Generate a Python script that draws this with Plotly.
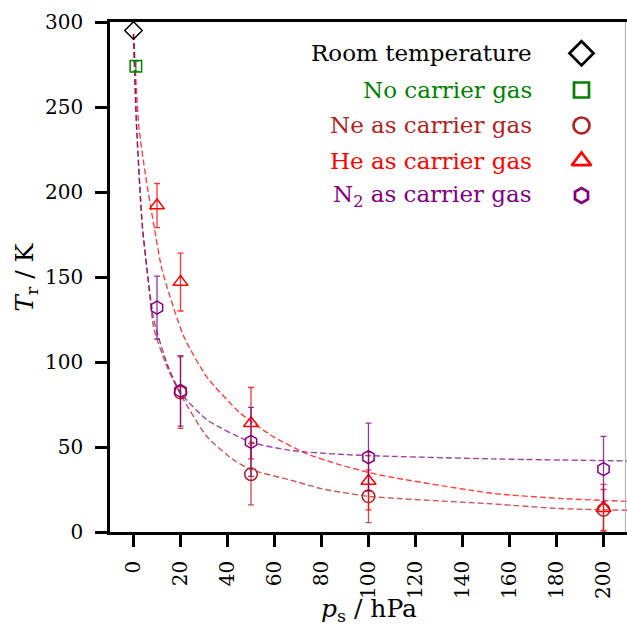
import plotly.graph_objects as go

# ---------------- data ----------------
room_p = [0]
room_T = [295]

none_p = [1]
none_T = [274]
none_err = [3]

ne_p = [20, 50, 100, 200]
ne_T = [82, 34, 21, 13]
ne_err = [21, 18, 15.5, 12]

he_p = [10, 20, 50, 100, 200]
he_T = [192, 147, 64, 30, 14]
he_err = [13, 17, 21, 17, 14]

n2_p = [10, 20, 50, 100, 200]
n2_T = [132, 83, 53, 44, 37]
n2_err = [18.5, 20.7, 20.3, 20, 19.3]

# fitted curves
ne_fit_p = [0, 1.3, 3.7, 6.5, 8.6, 14.3, 20, 31.3, 42.6, 50.4, 66.7, 80, 100, 153, 181, 210]
ne_fit_T = [293, 239, 181, 145, 120, 97, 81, 56, 42.4, 36.5, 30.6, 25.5, 21, 16.5, 13.8, 12.8]

he_fit_p = [0, 2.25, 5.1, 8.6, 12.2, 21.4, 31.3, 45.4, 59.6, 73.8, 87.9, 104.9, 153, 181, 210]
he_fit_T = [293, 239, 210, 181, 154, 115, 91, 70, 56, 46, 39.5, 33.5, 22.7, 19.8, 18]

n2_fit_p = [0, 1.3, 3.7, 5.8, 8.6, 14.3, 20, 31.3, 49.7, 66.7, 87.9, 104.9, 153, 210]
n2_fit_T = [293, 239, 181, 154, 125, 99, 82, 66, 53, 48, 45.7, 44.7, 43, 41.8]

x_ticks = [0, 20, 40, 60, 80, 100, 120, 140, 160, 180, 200]
y_ticks = [0, 50, 100, 150, 200, 250, 300]

legend_labels = ["Room temperature", "No carrier gas", "Ne as carrier gas",
                 "He as carrier gas", "N<sub>2</sub> as carrier gas"]

# ---------------- styles ----------------
FONT = "DejaVu Serif, serif"
C_ROOM = "black"
C_NONE = "#008000"
C_NE = "#b22222"
C_HE = "#ff0000"
C_N2 = "#800080"
FIT_A = {"ne": "rgba(178,34,34,0.75)", "he": "rgba(255,0,0,0.75)", "n2": "rgba(128,0,128,0.75)"}
ERR_A = {"ne": "rgba(178,34,34,0.8)", "he": "rgba(255,0,0,0.8)", "n2": "rgba(128,0,128,0.8)",
         "none": "rgba(0,128,0,0.9)"}
CLEAR = "rgba(0,0,0,0)"

fig = go.Figure()

def fit_trace(px, py, color):
    fig.add_trace(go.Scatter(x=px, y=py, mode="lines",
                             line=dict(color=color, width=1.4, dash="6px,3px", shape="spline", smoothing=0.6),
                             hoverinfo="skip", showlegend=False))

fit_trace(ne_fit_p, ne_fit_T, FIT_A["ne"])
fit_trace(he_fit_p, he_fit_T, FIT_A["he"])
fit_trace(n2_fit_p, n2_fit_T, FIT_A["n2"])

def data_trace(px, py, err, color, ecolor, symbol, size):
    kw = {}
    if err is not None:
        kw["error_y"] = dict(type="data", array=err, visible=True, color=ecolor,
                             thickness=1.3, width=3)
    fig.add_trace(go.Scatter(x=px, y=py, mode="markers",
                             marker=dict(symbol=symbol, size=size, color=CLEAR,
                                         line=dict(color=color, width=1.5)),
                             showlegend=False, **kw))

data_trace(room_p, room_T, None, C_ROOM, None, "diamond", 13.5)
data_trace(none_p, none_T, none_err, C_NONE, ERR_A["none"], "square", 11.5)
data_trace(ne_p, ne_T, ne_err, C_NE, ERR_A["ne"], "circle", 12.5)
data_trace(he_p, he_T, he_err, C_HE, ERR_A["he"], "triangle-up", 13)
data_trace(n2_p, n2_T, n2_err, C_N2, ERR_A["n2"], "hexagon", 13)

# ---------------- manual legend (text left of marker) ----------------
leg_colors = [C_ROOM, C_NONE, C_NE, C_HE, C_N2]
leg_symbols = ["diamond", "square", "circle", "triangle-up", "hexagon"]
leg_sizes = [18.5, 15, 16, 17, 15]
leg_y = [0.9386, 0.8667, 0.7971, 0.7275, 0.6598]
leg_mx = 0.912
leg_tx = 0.820

for col, sym, sz, yy in zip(leg_colors, leg_symbols, leg_sizes, leg_y):
    fig.add_trace(go.Scatter(x=[leg_mx], y=[yy], xaxis="x2", yaxis="y2", mode="markers",
                             marker=dict(symbol=sym, size=sz, color=CLEAR,
                                         line=dict(color=col, width=2.7)),
                             showlegend=False, hoverinfo="skip"))

annotations = []
for lab, col, yy in zip(legend_labels, leg_colors, leg_y):
    annotations.append(dict(x=leg_tx, y=yy, xref="paper", yref="paper", text=lab,
                            showarrow=False, xanchor="right", yanchor="middle",
                            font=dict(family=FONT, size=23, color=col)))

annotations.append(dict(x=-0.163, y=0.5, xref="paper", yref="paper",
                        text="<i>T</i><sub>r</sub> / K", textangle=-90, showarrow=False,
                        xanchor="center", yanchor="middle",
                        font=dict(family=FONT, size=25, color="black")))
annotations.append(dict(x=0.5, y=-0.153, xref="paper", yref="paper",
                        text="<i>p</i><sub>s</sub> / hPa", showarrow=False,
                        xanchor="center", yanchor="middle",
                        font=dict(family=FONT, size=25, color="black")))

axis_common = dict(showgrid=False, zeroline=False, ticks="outside", ticklen=12, tickwidth=2.5,
                   tickcolor="black", showline=True, linewidth=2.5, linecolor="black",
                   tickfont=dict(family=FONT, size=20, color="black"), automargin=False)

fig.update_layout(
    width=627, height=629,
    margin=dict(l=110, r=0, t=22, b=97),
    plot_bgcolor="white", paper_bgcolor="white",
    showlegend=False,
    xaxis=dict(range=[-10, 210], tickvals=x_ticks, tickangle=-90, mirror=True,
               ticklabelstandoff=6, **axis_common),
    yaxis=dict(range=[0, 300], tickvals=y_ticks, mirror=False, ticklabelstandoff=8, **axis_common),
    xaxis2=dict(overlaying="x", range=[0, 1], visible=False),
    yaxis2=dict(overlaying="y", range=[0, 1], visible=False),
    annotations=annotations,
    shapes=[dict(type="line", xref="paper", yref="paper", x0=0.997, x1=0.997, y0=0, y1=1,
                 line=dict(color="#aaaaaa", width=1))],
)

fig.write_html("out.html")
